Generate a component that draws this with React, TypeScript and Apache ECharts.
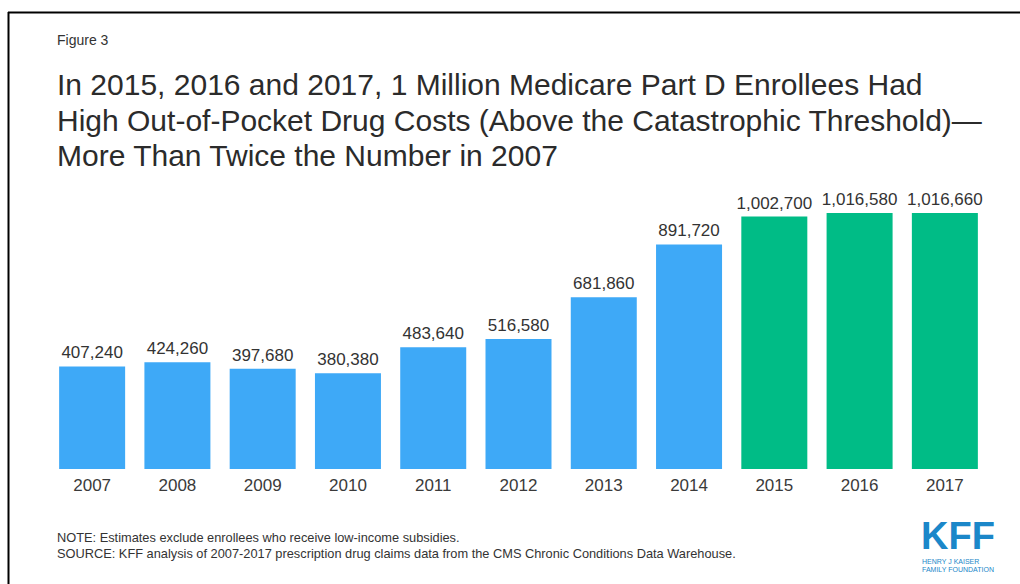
import React, { useEffect, useRef } from "react";
import * as echarts from "echarts";

const categories = ["2007", "2008", "2009", "2010", "2011", "2012", "2013", "2014", "2015", "2016", "2017"];
const enrollees = [407240, 424260, 397680, 380380, 483640, 516580, 681860, 891720, 1002700, 1016580, 1016660];
const highlightFrom = "2015";

const figureLabel = "Figure 3";
const titleText =
  "In 2015, 2016 and 2017, 1 Million Medicare Part D Enrollees Had\nHigh Out-of-Pocket Drug Costs (Above the Catastrophic Threshold)—\nMore Than Twice the Number in 2007";
const noteText = "NOTE: Estimates exclude enrollees who receive low-income subsidies.";
const sourceText = "SOURCE: KFF analysis of 2007-2017 prescription drug claims data from the CMS Chronic Conditions Data Warehouse.";

const BLUE = "#3EA9F7";
const GREEN = "#00BC86";
const FONT = "Liberation Sans, Arial, sans-serif";

export default function App() {
  const ref = useRef<HTMLDivElement>(null);
  useEffect(() => {
    document.body.style.margin = "0";
    const chart = echarts.init(ref.current!, null, { renderer: "svg" });
    const hi = categories.indexOf(highlightFrom);
    chart.setOption({
      animation: false,
      backgroundColor: "#ffffff",
      textStyle: { fontFamily: FONT },
      title: {
        text: titleText,
        left: 52,
        top: 62,
        textStyle: { fontSize: 30, fontWeight: "normal", color: "#2b2b2b", lineHeight: 35.5, fontFamily: FONT },
      },
      grid: { left: 49.5, right: 32.5, top: 192, bottom: 115, containLabel: false },
      xAxis: {
        type: "category",
        data: categories,
        axisLine: { show: false },
        axisTick: { show: false },
        axisLabel: { fontSize: 17, color: "#3a3a3a", margin: 8, fontFamily: FONT },
      },
      yAxis: {
        type: "value",
        min: 0,
        max: 1100000,
        show: false,
        splitLine: { show: false },
      },
      series: [
        {
          type: "bar",
          barWidth: 66,
          data: enrollees.map((v, i) => ({
            value: v,
            itemStyle: { color: i >= hi ? GREEN : BLUE },
          })),
          label: {
            show: true,
            position: "top",
            distance: 5,
            fontSize: 17,
            color: "#333333",
            fontFamily: FONT,
            formatter: (p: any) => Number(p.value).toLocaleString("en-US"),
          },
        },
      ],
      graphic: [
        { type: "line", shape: { x1: 8, y1: 12.5, x2: 1020, y2: 12.5 }, style: { stroke: "#000", lineWidth: 2 } },
        { type: "line", shape: { x1: 8.5, y1: 12, x2: 8.5, y2: 584 }, style: { stroke: "#000", lineWidth: 2 } },
        { type: "text", x: 57, y: 33, style: { text: figureLabel, fontSize: 14, fill: "#333", fontFamily: FONT } },
        { type: "text", x: 57, y: 531, style: { text: noteText, fontSize: 12.8, fill: "#333", fontFamily: FONT } },
        { type: "text", x: 57, y: 547, style: { text: sourceText, fontSize: 12.8, fill: "#333", fontFamily: FONT } },
        {
          type: "text",
          x: 921,
          y: 536,
          style: {
            text: "KFF",
            fontSize: 38,
            lineHeight: 28,
            verticalAlign: "middle",
            fontWeight: 900,
            fill: "#1B87C9",
            fontFamily: FONT,
          },
        },
        {
          type: "text",
          x: 922,
          y: 557,
          style: { text: "HENRY J KAISER\nFAMILY FOUNDATION", fontSize: 7, lineHeight: 8.5, fill: "#1B87C9", fontFamily: FONT },
        },
      ],
    });
    return () => chart.dispose();
  }, []);
  return <div ref={ref} style={{ width: 1020, height: 584 }} />;
}
